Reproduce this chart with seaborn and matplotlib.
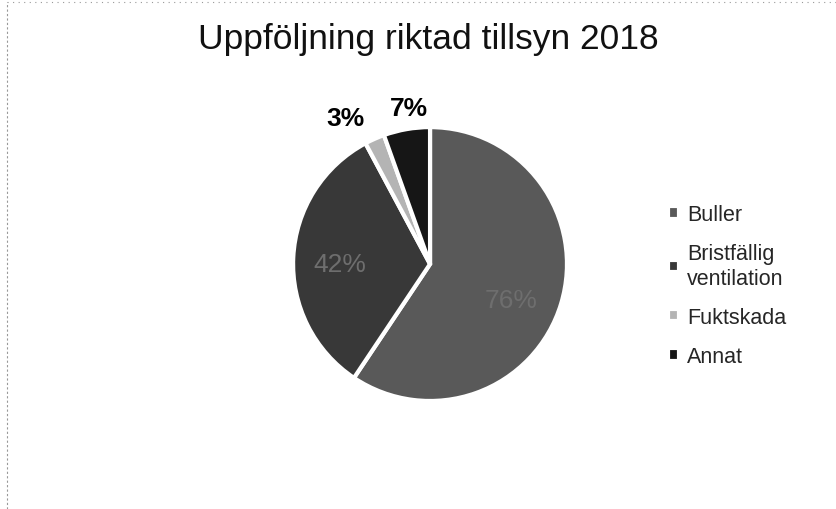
import numpy as np
import matplotlib
matplotlib.use("Agg")
import matplotlib.pyplot as plt
import seaborn as sns

# data (values are shown with a "%" sign in the original chart)
categories = ["Buller", "Bristfällig\nventilation", "Fuktskada", "Annat"]
values = [76, 42, 3, 7]
labels = ["76%", "42%", "3%", "7%"]

sns.set_theme(style="white")
plt.rcParams['font.family'] = ['Liberation Sans', 'DejaVu Sans']

colors = ["#595959", "#383838", "#b4b4b4", "#161616"]

fig = plt.figure(figsize=(8.36, 5.10), dpi=100)
ax = fig.add_axes([0.3505, 0.2118, 0.3278, 0.537])

wedges, _ = ax.pie(values, colors=colors, startangle=90, counterclock=False,
                   wedgeprops=dict(edgecolor="white", linewidth=3))
ax.set_xlim(-1, 1)
ax.set_ylim(-1, 1)
ax.set_aspect("equal")

# labels: inside for big slices, outside bold for small ones
dist = [0.62, 0.68, 1.17, 1.15]
shift = [(0, -8), (2, -3), (-14, 0), (4, 1)]
for w, lab, d, s, v in zip(wedges, labels, dist, shift, values):
    ang = np.deg2rad((w.theta1 + w.theta2) / 2)
    x, y = d * np.cos(ang), d * np.sin(ang)
    if v > 20:
        ax.annotate(lab, (x, y), xytext=s, textcoords="offset points",
                    ha="center", va="center", fontsize=19, color="#6e6e6e")
    else:
        ax.annotate(lab, (x, y), xytext=s, textcoords="offset points",
                    ha="center", va="center", fontsize=19,
                    fontweight="bold", color="black", annotation_clip=False)

fig.text(0.512, 0.922, "Uppföljning riktad tillsyn 2018", ha="center", va="center",
         fontsize=25.5, color="#111111")

fig.legend(wedges, categories, loc="upper left", bbox_to_anchor=(0.798 - 0.012, 0.605 + 0.014),
           frameon=False, fontsize=15.5, handlelength=0.5, handleheight=0.5,
           handletextpad=0.4, labelspacing=0.85, borderpad=0)

# faint dotted frame from the scan
fig.add_artist(plt.Line2D([0.008, 1.0], [0.994, 0.994], transform=fig.transFigure,
                          color="#999999", lw=0.8, ls=(0, (1, 4))))
fig.add_artist(plt.Line2D([0.008, 0.008], [0.0, 0.994], transform=fig.transFigure,
                          color="#999999", lw=0.8, ls=(0, (2, 2))))

fig.savefig("out.png", dpi=100, facecolor="white")
